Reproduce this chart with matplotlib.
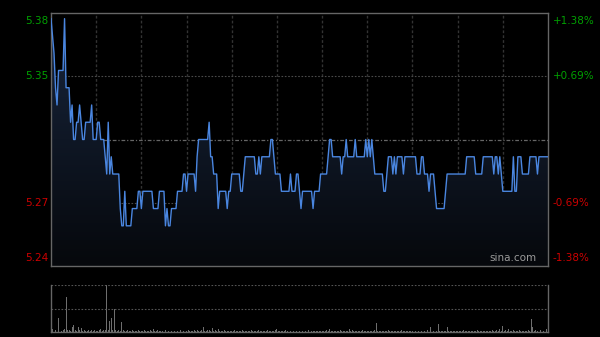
import numpy as np
import matplotlib
matplotlib.use("Agg")
import matplotlib.pyplot as plt
from matplotlib.patches import Polygon
from matplotlib.colors import LinearSegmentedColormap

# ---- data ----
prev_close = 5.31
pct_range = 0.0138

# price per minute, stored as (level, number of consecutive minutes)
price_levels = [5.38, 5.37, 5.36, 5.34, 5.33, 5.35, 5.38, 5.34, 5.32, 5.33, 5.31, 5.32, 5.33, 5.32, 5.31,
                5.32, 5.33, 5.31, 5.32, 5.31, 5.30, 5.29, 5.32, 5.29, 5.30, 5.29, 5.27, 5.26, 5.28, 5.26,
                5.27, 5.28, 5.27, 5.28, 5.27, 5.28, 5.26, 5.27, 5.26, 5.27, 5.28, 5.29, 5.28, 5.29, 5.28,
                5.30, 5.31, 5.32, 5.30, 5.29, 5.27, 5.28, 5.27, 5.28, 5.29, 5.28, 5.29, 5.30, 5.29, 5.30,
                5.29, 5.30, 5.31, 5.30, 5.29, 5.28, 5.29, 5.28, 5.29, 5.28, 5.27, 5.28, 5.27, 5.28, 5.29,
                5.30, 5.31, 5.30, 5.29, 5.30, 5.31, 5.30, 5.31, 5.30, 5.31, 5.30, 5.31, 5.30, 5.31, 5.30,
                5.29, 5.28, 5.29, 5.30, 5.29, 5.30, 5.29, 5.30, 5.29, 5.30, 5.29, 5.30, 5.29, 5.28, 5.29,
                5.28, 5.27, 5.28, 5.29, 5.30, 5.29, 5.30, 5.29, 5.30, 5.29, 5.30, 5.29, 5.28, 5.30, 5.28,
                5.30, 5.29, 5.30, 5.29, 5.30]
run_lengths = [1, 1, 1, 1, 1, 4, 1, 3, 1, 1, 2, 2, 1, 1, 2,
               4, 1, 3, 2, 3, 1, 1, 1, 1, 1, 5, 1, 2, 1, 4,
               4, 2, 1, 7, 4, 4, 1, 1, 2, 4, 4, 2, 1, 5, 1,
               1, 7, 1, 2, 3, 1, 5, 1, 2, 6, 2, 1, 7, 2, 1,
               1, 6, 2, 1, 4, 6, 1, 3, 2, 1, 1, 7, 1, 4, 5,
               1, 2, 6, 1, 2, 1, 5, 1, 6, 1, 1, 1, 1, 1, 1,
               6, 2, 1, 3, 1, 1, 1, 4, 1, 8, 3, 2, 3, 1, 3,
               1, 6, 1, 13, 6, 5, 7, 1, 2, 1, 1, 1, 7, 1, 2,
               3, 5, 5, 1, 7]

volume = [
    2, 3, 11, 2, 6, 14, 2, 1, 2, 3, 35, 2, 2, 1, 5, 7, 2, 1, 5, 2, 4, 1, 2, 1, 1, 2, 1, 2, 1, 2,
    1, 1, 2, 3, 1, 2, 2, 47, 2, 11, 14, 2, 23, 2, 1, 2, 1, 10, 2, 1, 1, 2, 1, 1, 2, 1, 1, 1, 2, 1,
    1, 1, 2, 1, 1, 1, 2, 1, 3, 1, 1, 2, 1, 1, 1, 1, 2, 2, 1, 1, 1, 2, 1, 1, 1, 1, 2, 1, 1, 1,
    1, 2, 1, 1, 1, 2, 1, 2, 1, 1, 2, 5, 1, 1, 2, 2, 1, 4, 1, 2, 1, 3, 1, 1, 1, 2, 1, 1, 1, 1,
    1, 1, 2, 1, 1, 1, 1, 2, 1, 1, 1, 1, 1, 2, 1, 1, 1, 1, 2, 1, 1, 1, 1, 1, 2, 1, 1, 1, 1, 2,
    3, 1, 1, 1, 1, 1, 2, 1, 1, 1, 1, 1, 1, 1, 2, 1, 8, 1, 1, 1, 1, 2, 1, 1, 1, 1, 1, 1, 1, 1,
    1, 1, 1, 2, 1, 3, 1, 1, 1, 1, 1, 1, 2, 1, 1, 1, 1, 1, 3, 1, 2, 1, 1, 1, 1, 1, 1, 2, 1, 1,
    1, 1, 1, 1, 1, 2, 9, 1, 1, 1, 1, 1, 1, 1, 2, 1, 1, 1, 1, 1, 1, 1, 1, 2, 1, 1, 1, 1, 1, 1,
    1, 1, 1, 1, 1, 2, 1, 1, 1, 1, 2, 1, 5, 1, 1, 2, 1, 8, 1, 1, 1, 1, 1, 5, 1, 1, 1, 1, 1, 1,
    1, 1, 1, 1, 2, 1, 1, 1, 1, 1, 1, 1, 1, 2, 1, 1, 1, 1, 1, 1, 1, 1, 1, 2, 1, 1, 2, 1, 3, 1,
    6, 1, 2, 1, 3, 1, 1, 2, 1, 1, 1, 2, 1, 1, 1, 1, 1, 2, 1, 13, 5, 1, 2, 1, 1, 2, 1, 1, 1, 3,
    2]

left_labels = ["5.38", "5.35", "5.27", "5.24"]
right_labels = ["+1.38%", "+0.69%", "-0.69%", "-1.38%"]
watermark = "sina.com"

# ---- derived ----
price = np.repeat(price_levels, run_lengths)
n = len(price)
minutes = np.arange(n)
lo = prev_close * (1 - pct_range)
hi = prev_close * (1 + pct_range)
n_min = 330

W, H = 600, 337
fig = plt.figure(figsize=(W / 100, H / 100), dpi=100, facecolor="black")
plt.rcParams["font.family"] = ["DejaVu Sans"]

ax = fig.add_axes([51 / W, (H - 266) / H, 497 / W, 253 / H])
ax.set_facecolor("black")
ax.set_xlim(0, n_min)
ax.set_ylim(lo, hi)

# grid
for k in range(1, 11):
    ax.axvline(k * 30, color="#333333", lw=1.0, ls=(0, (2, 1.5)), zorder=1)
q = (hi - lo) / 4
ax.axhline(lo + q, color="#4a4a4a", lw=0.8, ls=(0, (1.5, 1.5)), zorder=1)
ax.axhline(hi - q, color="#4a4a4a", lw=0.8, ls=(0, (1.5, 1.5)), zorder=1)
ax.axhline(prev_close, color="#666666", lw=0.9, ls=(0, (3, 1.5, 1, 1.5)), zorder=1)

# gradient fill under line
grad = np.linspace(1, 0, 256).reshape(-1, 1)
cmap = LinearSegmentedColormap.from_list("f", ["#06080c", "#18263e"])
im = ax.imshow(grad, extent=[0, n_min, lo, hi], aspect="auto", cmap=cmap,
               origin="upper", zorder=2)
verts = np.vstack([np.column_stack([minutes, price]),
                   [[minutes[-1], lo], [minutes[0], lo]]])
poly = Polygon(verts, closed=True, facecolor="none", edgecolor="none")
ax.add_patch(poly)
im.set_clip_path(poly)

ax.plot(minutes, price, color="#4a86e0", lw=1.0, zorder=3)

for s in ["top", "bottom", "left", "right"]:
    ax.spines[s].set_color("#666666")
    ax.spines[s].set_linewidth(1.0)
ax.set_xticks([])
ax.set_yticks([])

# axis labels
ypos = [hi, hi - q, lo + q, lo]
offs = [-2, 0, 0, 2]
vas = ["top", "center", "center", "bottom"]
cols = ["#00a000", "#00a000", "#cc0000", "#cc0000"]
import matplotlib.transforms as mtransforms
for lab, rl, yv, va, c, o in zip(left_labels, right_labels, ypos, vas, cols, offs):
    tr = mtransforms.offset_copy(ax.get_yaxis_transform(), fig=fig, x=0, y=o, units="points")
    ax.text(-0.006, yv, lab, transform=tr, ha="right", va=va, color=c, fontsize=7.5)
    ax.text(1.01, yv, rl, transform=tr, ha="left", va=va, color=c, fontsize=7.5)
ax.text(0.977, 0.012, watermark, transform=ax.transAxes, ha="right", va="bottom",
        color="#9a9a9a", fontsize=7.5)

# volume panel
vax = fig.add_axes([51 / W, (H - 332) / H, 497 / W, 47 / H])
vax.set_facecolor("black")
vax.bar(minutes, volume, width=0.6, color="#6e6e6e", edgecolor="none")
vmax = max(volume)
vax.set_xlim(0, n_min)
vax.set_ylim(0, vmax)
vax.axhline(vmax, color="#555555", lw=0.8, ls=(0, (1.5, 1.5)))
vax.axhline(vmax / 2, color="#555555", lw=0.8, ls=(0, (1.5, 1.5)))
vax.spines["top"].set_visible(False)
for s in ["bottom", "left", "right"]:
    vax.spines[s].set_color("#666666")
    vax.spines[s].set_linewidth(1.0)
vax.set_xticks([])
vax.set_yticks([])

fig.savefig("out.png", dpi=100, facecolor="black")
